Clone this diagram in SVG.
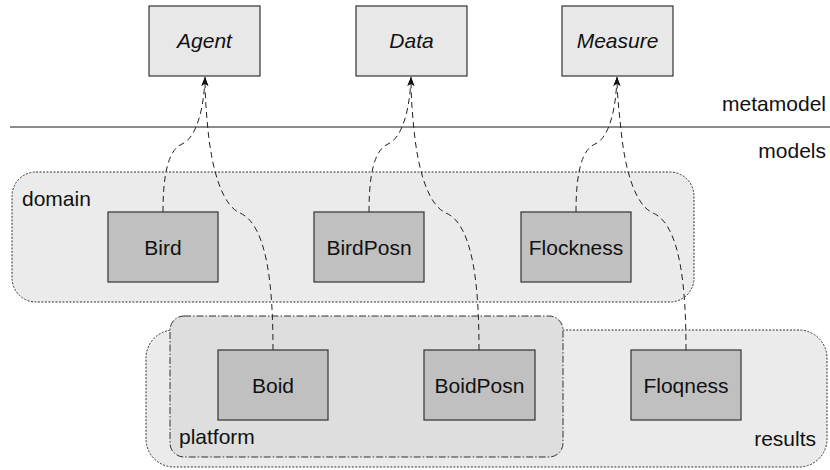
<svg xmlns="http://www.w3.org/2000/svg" width="830" height="470" viewBox="0 0 830 470">
<style>
text{font-family:"Liberation Sans",Arial,sans-serif;font-size:21px;fill:#111}
.meta rect{fill:#e8e8e8;stroke:#333;stroke-width:1.2}
.meta text{font-style:italic;text-anchor:middle}
.model rect{fill:#c0c0c0;stroke:#333;stroke-width:1.2}
.model text{text-anchor:middle}
.cont{stroke:#333;stroke-width:1;stroke-dasharray:2,1.5}
.conn path{fill:none;stroke:#222;stroke-width:1;stroke-dasharray:6,4;marker-end:url(#arr)}
</style>
<defs>
<marker id="arr" markerUnits="userSpaceOnUse" markerWidth="12" markerHeight="10" refX="10" refY="5" orient="auto" viewBox="0 0 12 10">
<path d="M10,5 L1,1.5 L3.5,5 L1,8.5 Z" fill="#111" stroke="none"/>
</marker>
</defs>
<rect width="830" height="470" fill="#fff"/>
<line x1="10" y1="127" x2="830" y2="127" stroke="#666" stroke-width="1.5"/>
<text x="826" y="111" text-anchor="end">metamodel</text>
<text x="826" y="158" text-anchor="end">models</text>

<g id="domain">
<rect class="cont" x="12" y="172" width="682" height="130" rx="24" fill="#ebebeb"/>
<text x="22" y="206">domain</text>
</g>
<g id="results">
<rect class="cont" x="146" y="330" width="681" height="137" rx="28" fill="#ebebeb"/>
<text x="816" y="446" text-anchor="end">results</text>
</g>
<g id="platform">
<rect x="170" y="316" width="393" height="141" rx="14" fill="#dedede" stroke="#333" stroke-width="1" stroke-dasharray="7,2,1.5,2"/>
<text x="179" y="444">platform</text>
</g>

<g id="connectors" class="conn">
<path d="M163,212 C163,175 168,150 182,144 C196,138 204,110 205,77"/>
<path d="M369,212 C369,175 374,150 388,144 C402,138 410,110 411,77"/>
<path d="M576,212 C576,175 581,150 595,144 C609,138 616,110 617,77"/>
<path d="M273,350 C273,290 268,225 240,213 C222,205 212,170 208,130 C206,110 205,95 205,77"/>
<path d="M479,350 C479,290 474,225 446,213 C428,205 418,170 414,130 C412,110 411,95 411,77"/>
<path d="M686,350 C686,290 681,225 653,213 C635,205 625,170 621,130 C619,110 617,95 617,77"/>
</g>

<g id="agent" class="meta"><rect x="149" y="6" width="111" height="70"/><text x="204.5" y="48">Agent</text></g>
<g id="data" class="meta"><rect x="356" y="6" width="111" height="70"/><text x="411.5" y="48">Data</text></g>
<g id="measure" class="meta"><rect x="562" y="6" width="111" height="70"/><text x="617.5" y="48">Measure</text></g>

<g id="bird" class="model"><rect x="108" y="212" width="110" height="70"/><text x="163" y="255">Bird</text></g>
<g id="birdposn" class="model"><rect x="314" y="212" width="110" height="70"/><text x="369" y="255">BirdPosn</text></g>
<g id="flockness" class="model"><rect x="521" y="212" width="110" height="70"/><text x="576" y="255">Flockness</text></g>

<g id="boid" class="model"><rect x="218" y="350" width="110" height="70"/><text x="273" y="393">Boid</text></g>
<g id="boidposn" class="model"><rect x="424" y="350" width="111" height="70"/><text x="479.5" y="393">BoidPosn</text></g>
<g id="floqness" class="model"><rect x="631" y="350" width="110" height="70"/><text x="686" y="393">Floqness</text></g>
</svg>
